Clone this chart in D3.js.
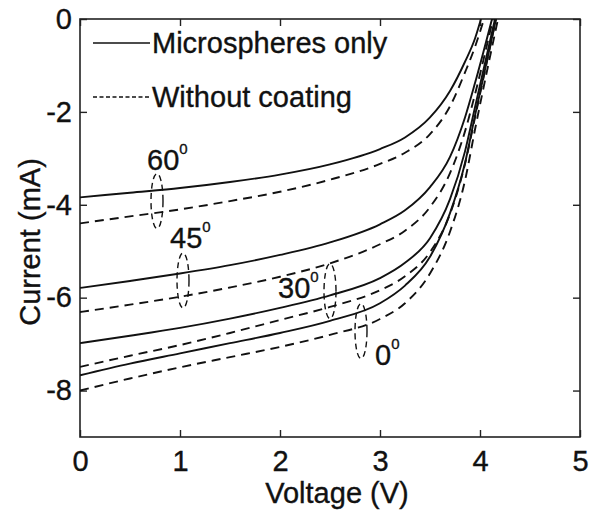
<!DOCTYPE html>
<html>
<head>
<meta charset="utf-8">
<script src="https://cdn.jsdelivr.net/npm/d3@7"></script>
<style>
  html, body { margin: 0; padding: 0; background: #fff; }
  svg text { font-family: "Liberation Sans", Arial, Helvetica, sans-serif; fill: #111; stroke: #111; stroke-width: 0.35px; }
</style>
</head>
<body>
<svg id="chart" width="593" height="512"></svg>
<script>
// Shared voltage grid (V) for the I-V sweeps
const voltage = [0, 0.5, 1, 1.5, 2, 2.5, 3, 3.25, 3.5, 3.7, 3.85, 3.95];

// Current (mA) per incidence angle, with microspheres only (solid)
const solid60 = [-3.84, -3.74, -3.64, -3.51, -3.35, -3.13, -2.80, -2.55, -2.12, -1.55, -0.92, -0.42];
const solid45 = [-5.79, -5.64, -5.48, -5.30, -5.08, -4.81, -4.42, -4.12, -3.62, -2.97, -2.12, -1.38];
const solid30 = [-6.98, -6.82, -6.65, -6.45, -6.22, -5.95, -5.58, -5.25, -4.72, -3.88, -2.85, -1.90];
const solid0  = [-7.67, -7.42, -7.20, -6.98, -6.76, -6.50, -6.12, -5.74, -5.12, -4.18, -3.10, -2.08];

// Current (mA) per incidence angle, without coating (dashed)
const dashed60 = [-4.40, -4.25, -4.10, -3.92, -3.72, -3.46, -3.12, -2.88, -2.48, -1.88, -1.15, -0.60];
const dashed45 = [-6.31, -6.15, -5.98, -5.78, -5.55, -5.26, -4.85, -4.56, -4.05, -3.32, -2.42, -1.62];
const dashed30 = [-7.49, -7.25, -7.02, -6.76, -6.48, -6.20, -5.84, -5.54, -5.02, -4.20, -3.12, -2.12];
const dashed0  = [-8.00, -7.74, -7.50, -7.28, -7.06, -6.80, -6.46, -6.12, -5.48, -4.58, -3.48, -2.38];

// Open-circuit voltage (V) where each curve reaches 0 mA
const vocSolid  = [4.01, 4.12, 4.15, 4.16];
const vocDashed = [4.04, 4.13, 4.16, 4.18];

const angles = [60, 45, 30, 0];

// Angle annotations: ellipse centre (V, mA) and label anchor (V, mA)
const markV = [0.77, 1.03, 2.50, 2.81];
const markI = [-3.92, -5.63, -5.86, -6.72];
const labelV = [0.67, 0.90, 1.98, 2.95];
const labelI = [-3.25, -4.94, -6.00, -7.46];

const xTicks = [0, 1, 2, 3, 4, 5];
const yTicks = [0, -2, -4, -6, -8];

const legendLabels = ["Microspheres only", "Without coating"];

// ---- layout ----
const plotLeft = 80, plotRight = 580, plotTop = 19, plotBottom = 437;
const svg = d3.select("#chart");

const x = d3.scaleLinear().domain([0, 5]).range([plotLeft, plotRight]);
const y = d3.scaleLinear().domain([-9, 0]).range([plotBottom, plotTop]);

const fmt = d => String(d);
const fontSize = 29;

// clip for curves
svg.append("defs").append("clipPath").attr("id", "plot-clip")
  .append("rect").attr("x", plotLeft).attr("y", plotTop)
  .attr("width", plotRight - plotLeft).attr("height", plotBottom - plotTop);

// axes with inward ticks, mirrored on top and right
const tickLen = 7;
const axisStyle = g => {
  g.select(".domain").remove();
  g.selectAll(".tick line").attr("stroke", "#222").attr("stroke-width", 1.4);
  g.selectAll("text").style("font-size", fontSize + "px").attr("fill", "#111");
};

svg.append("g").attr("transform", `translate(0,${plotBottom})`)
  .call(d3.axisBottom(x).tickValues(xTicks).tickFormat(fmt).tickSizeInner(-tickLen).tickSizeOuter(0).tickPadding(13))
  .call(axisStyle)
  .call(g => g.selectAll("text").attr("dy", "0.71em"));

svg.append("g").attr("transform", `translate(0,${plotTop})`)
  .call(d3.axisTop(x).tickValues(xTicks).tickFormat("").tickSizeInner(-tickLen).tickSizeOuter(0))
  .call(axisStyle);

svg.append("g").attr("transform", `translate(${plotLeft},0)`)
  .call(d3.axisLeft(y).tickValues(yTicks).tickFormat(fmt).tickSizeInner(-tickLen).tickSizeOuter(0).tickPadding(8))
  .call(axisStyle);

svg.append("g").attr("transform", `translate(${plotRight},0)`)
  .call(d3.axisRight(y).tickValues(yTicks).tickFormat("").tickSizeInner(-tickLen).tickSizeOuter(0))
  .call(axisStyle);

// frame
svg.append("rect")
  .attr("x", plotLeft).attr("y", plotTop)
  .attr("width", plotRight - plotLeft).attr("height", plotBottom - plotTop)
  .attr("fill", "none").attr("stroke", "#222").attr("stroke-width", 1.6);

// axis titles
svg.append("text")
  .attr("x", (x(0) + x(5)) / 2 + 7).attr("y", 503)
  .attr("text-anchor", "middle")
  .style("font-size", fontSize + "px")
  .text("Voltage (V)");

svg.append("text")
  .attr("transform", `translate(40,${(y(0) + y(-9)) / 2 + 14}) rotate(-90)`)
  .attr("text-anchor", "middle")
  .style("font-size", fontSize + "px")
  .text("Current (mA)");

// curves
const line = d3.line()
  .x(d => x(d[0])).y(d => y(d[1]))
  .curve(d3.curveMonotoneX);

const toPoints = (vals, voc) => voltage.map((v, i) => [v, vals[i]]).concat([[voc, 0]]);

const solidSeries = [solid60, solid45, solid30, solid0];
const dashedSeries = [dashed60, dashed45, dashed30, dashed0];

const curves = svg.append("g").attr("clip-path", "url(#plot-clip)");

solidSeries.forEach((vals, i) => {
  curves.append("path")
    .attr("d", line(toPoints(vals, vocSolid[i])))
    .attr("fill", "none").attr("stroke", "#111").attr("stroke-width", 1.9);
});
dashedSeries.forEach((vals, i) => {
  curves.append("path")
    .attr("d", line(toPoints(vals, vocDashed[i])))
    .attr("fill", "none").attr("stroke", "#111").attr("stroke-width", 1.9)
    .attr("stroke-dasharray", "9,6");
});

// angle annotations: dashed ellipse around each pair + label with degree superscript
const ann = svg.append("g");
angles.forEach((a, i) => {
  ann.append("ellipse")
    .attr("cx", x(markV[i])).attr("cy", y(markI[i]))
    .attr("rx", 6).attr("ry", 27.5)
    .attr("fill", "none").attr("stroke", "#111").attr("stroke-width", 1.4)
    .attr("stroke-dasharray", "6,4");
  const t = ann.append("text")
    .attr("x", x(labelV[i])).attr("y", y(labelI[i]))
    .style("font-size", fontSize + "px");
  t.append("tspan").text(String(a));
  t.append("tspan").attr("dy", -16).style("font-size", "15px").text("0");
});

// legend
const legend = svg.append("g");
const legendY = [43, 97];
const legendDash = [null, "4,2.5"];
legendLabels.forEach((lab, i) => {
  legend.append("line")
    .attr("x1", 93).attr("x2", 150)
    .attr("y1", legendY[i]).attr("y2", legendY[i])
    .attr("stroke", "#111").attr("stroke-width", 1.3)
    .attr("stroke-dasharray", legendDash[i]);
  legend.append("text")
    .attr("x", 152).attr("y", legendY[i] + 10)
    .style("font-size", fontSize + "px")
    .text(lab);
});
</script>
</body>
</html>
